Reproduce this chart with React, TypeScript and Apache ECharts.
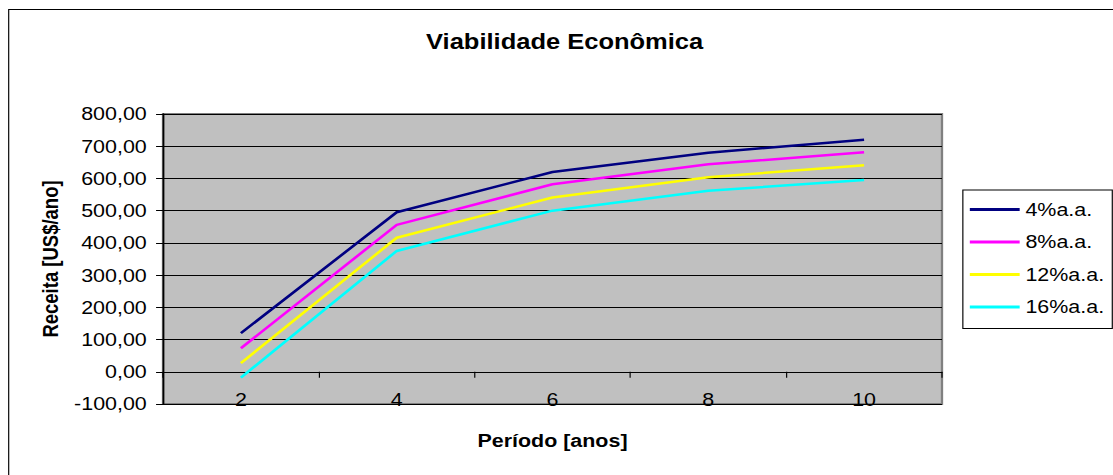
import React, { useEffect, useRef } from "react";
import * as echarts from "echarts";

const categories = ["2", "4", "6", "8", "10"];
const seriesNames = ["4%a.a.", "8%a.a.", "12%a.a.", "16%a.a."];
const rate4 = [120, 495, 620, 680, 720];
const rate8 = [73, 456, 582, 644, 681];
const rate12 = [27, 416, 541, 604, 641];
const rate16 = [-18, 375, 500, 562, 595];
const seriesColors = ["#000080", "#FF00FF", "#FFFF00", "#00FFFF"];
const yMin = -100;
const yMax = 800;
const yStep = 100;

const FONT = "'Liberation Sans', Arial, sans-serif";
const INNER_W = 960;
const OUTER_W = 1113;
const H = 475;

export default function App() {
  const ref = useRef<HTMLDivElement>(null);
  useEffect(() => {
    if (!ref.current) return;
    const chart = echarts.init(ref.current, null, { renderer: "svg" });
    const values = [rate4, rate8, rate12, rate16];
    chart.setOption({
      animation: false,
      backgroundColor: "#ffffff",
      textStyle: { fontFamily: FONT },
      title: {
        text: "Viabilidade Econômica",
        left: 487,
        top: 30,
        padding: 0,
        textAlign: "center",
        textStyle: { fontFamily: FONT, fontSize: 22, fontWeight: "bold", color: "#000" },
      },
      graphic: [
        {
          type: "rect",
          silent: true,
          z: -10,
          shape: { x: 7.5, y: 9.5, width: 1200, height: 800 },
          style: { fill: "none", stroke: "#000", lineWidth: 1 },
        },
      ],
      legend: {
        orient: "vertical",
        left: 830.5,
        top: 190,
        padding: [10, 7, 12, 6],
        itemGap: 13.5,
        itemWidth: 43,
        itemHeight: 3,
        icon: "rect",
        borderColor: "#000",
        borderWidth: 1,
        borderRadius: 0,
        backgroundColor: "#fff",
        data: seriesNames,
        textStyle: { fontFamily: FONT, fontSize: 18.5, color: "#000" },
      },
      grid: {
        left: 140.6,
        right: 147.5,
        top: 114,
        bottom: 71,
        show: true,
        backgroundColor: "#C0C0C0",
        borderColor: "#808080",
        borderWidth: 2,
      },
      xAxis: [
        {
          type: "category",
          data: categories,
          position: "top",
          boundaryGap: true,
          axisLine: { show: true, onZero: true, lineStyle: { color: "#000", width: 1 } },
          axisTick: { show: true, inside: true, length: 6, lineStyle: { color: "#000", width: 1 } },
          axisLabel: { show: false },
          splitLine: { show: false },
        },
        {
          type: "category",
          data: categories,
          position: "bottom",
          boundaryGap: true,
          axisLine: { show: false, onZero: false },
          axisTick: { show: false },
          axisLabel: {
            show: true,
            margin: -4,
            verticalAlign: "middle",
            color: "#000",
            fontFamily: FONT,
            fontSize: 18.5,
          },
          splitLine: { show: false },
          name: "Período [anos]",
          nameLocation: "middle",
          nameGap: 27,
          nameTextStyle: { fontFamily: FONT, fontSize: 18.5, fontWeight: "bold", color: "#000" },
        },
      ],
      yAxis: {
        type: "value",
        min: yMin,
        max: yMax,
        interval: yStep,
        axisLine: { show: true, lineStyle: { color: "#000", width: 1.5 } },
        axisTick: { show: true, inside: false, length: 6, lineStyle: { color: "#000", width: 1 } },
        axisLabel: {
          margin: 14,
          color: "#000",
          fontFamily: FONT,
          fontSize: 18.5,
          formatter: (v: number) => v.toFixed(2).replace(".", ","),
        },
        splitLine: { show: true, lineStyle: { color: "#000", width: 1 } },
        name: "Receita [US$/ano]",
        nameLocation: "middle",
        nameGap: 87,
        nameTextStyle: { fontFamily: FONT, fontSize: 18.5, fontWeight: "bold", color: "#000" },
      },
      series: seriesNames.map((name, i) => ({
        name,
        type: "line",
        xAxisIndex: 0,
        data: values[i],
        symbol: "none",
        showSymbol: false,
        lineStyle: { color: seriesColors[i], width: 2.5 },
        itemStyle: { color: seriesColors[i] },
        z: 5 - i,
      })),
    });
    return () => chart.dispose();
  }, []);

  return (
    <div
      style={{
        position: "absolute",
        left: 0,
        top: 0,
        width: OUTER_W,
        height: H,
        overflow: "hidden",
        background: "#fff",
      }}
    >
      <div
        ref={ref}
        style={{
          width: INNER_W,
          height: H,
          transform: `scaleX(${OUTER_W / INNER_W})`,
          transformOrigin: "0 0",
        }}
      />
    </div>
  );
}
